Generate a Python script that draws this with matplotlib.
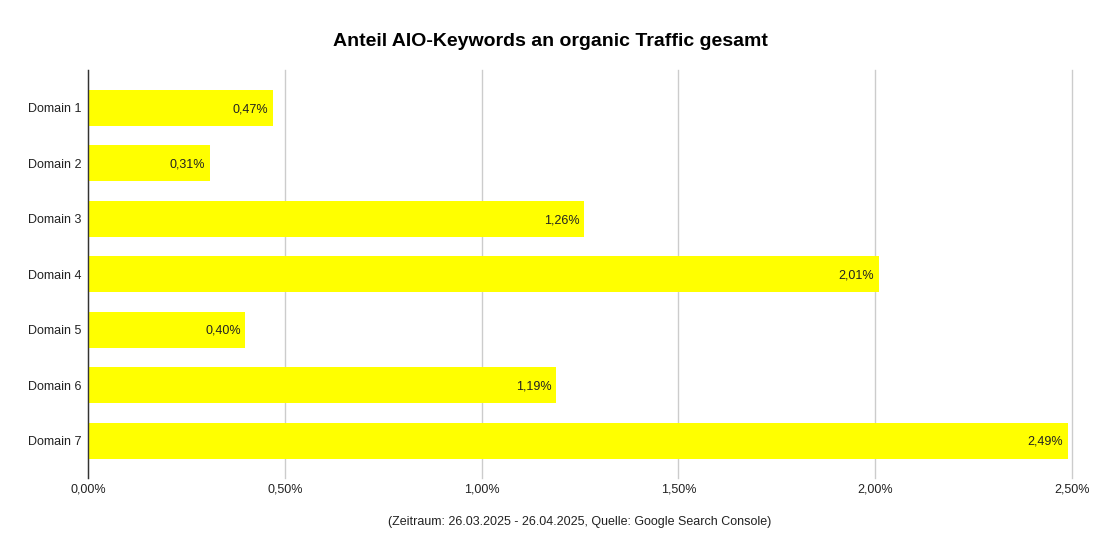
import matplotlib
matplotlib.use("Agg")
import matplotlib.pyplot as plt
from matplotlib.ticker import FuncFormatter

categories = ["Domain 1", "Domain 2", "Domain 3", "Domain 4", "Domain 5", "Domain 6", "Domain 7"]
values = [0.47, 0.31, 1.26, 2.01, 0.40, 1.19, 2.49]
xticks = [0.0, 0.5, 1.0, 1.5, 2.0, 2.5]

plt.rcParams['font.family'] = ['Liberation Sans', 'DejaVu Sans']

fig = plt.figure(figsize=(11, 5.58), dpi=100)
ax = fig.add_axes([88/1100, 1-478/558, (1072-88)/1100, (478-70)/558])

y = list(range(len(categories)))
ax.barh(y, values, height=0.65, color="#ffff00", zorder=2)
for yi, v in zip(y, values):
    ax.text(v - 0.012, yi + 0.02, f"{v:.2f}".replace(".", ",") + "%", ha="right", va="center",
            fontsize=9, color="#222222", zorder=3)

ax.set_yticks(y)
ax.set_yticklabels(categories, fontsize=9, color="#222222")
ax.set_ylim(6 + 0.67, -0.685)
ax.set_xlim(0, 2.5)
ax.set_xticks(xticks)
ax.xaxis.set_major_formatter(FuncFormatter(lambda v, p: f"{v:.2f}".replace(".", ",") + "%"))
ax.tick_params(axis="x", labelsize=9, colors="#222222", length=0, pad=4)
ax.tick_params(axis="y", length=0, pad=5)
ax.grid(axis="x", color="#cccccc", linewidth=1, zorder=0)
for line in ax.get_xgridlines():
    line.set_clip_on(False)
for s in ["top", "right", "bottom"]:
    ax.spines[s].set_visible(False)
ax.spines["left"].set_color("#333333")
ax.spines["left"].set_linewidth(1)
ax.spines["left"].set_zorder(4)

fig.text(550/1100, 1-41/558, "Anteil AIO-Keywords an organic Traffic gesamt", ha="center", va="center",
         fontsize=14, fontweight="bold", color="#000000")
fig.text(580/1100, 1-522/558, "(Zeitraum: 26.03.2025 - 26.04.2025, Quelle: Google Search Console)",
         ha="center", va="center", fontsize=9, color="#222222")

fig.savefig("out.png", dpi=100)
